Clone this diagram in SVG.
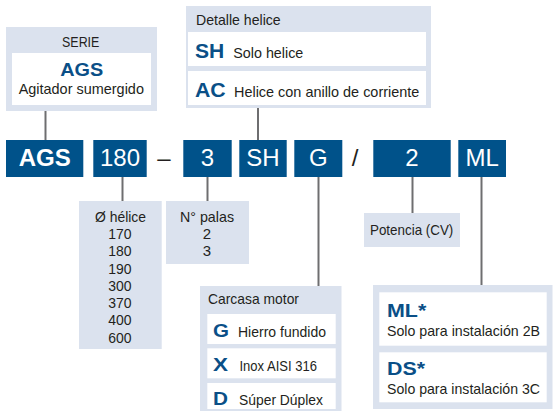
<svg xmlns="http://www.w3.org/2000/svg" width="556" height="411" viewBox="0 0 556 411">
<style>
text{font-family:"Liberation Sans",Arial,sans-serif;fill:#231f20}
.t{font-size:15px}
.b{font-weight:bold;fill:#0a4f87}
.c{text-anchor:middle}
.panel{fill:#dbe2ee}
.card{fill:#ffffff}
.code{fill:#00528a}
.ct{font-size:24px;fill:#ffffff;text-anchor:middle}
.sep{font-size:24px;fill:#231f20;text-anchor:middle}
.ln{stroke:#6e6e70;stroke-width:2;fill:none}
</style>
<g id="connectors">
<line class="ln" x1="45.5" y1="111" x2="45.5" y2="140"/>
<line class="ln" x1="258" y1="108" x2="258" y2="140"/>
<line class="ln" x1="122.5" y1="177" x2="122.5" y2="201"/>
<line class="ln" x1="207.5" y1="177" x2="207.5" y2="201"/>
<line class="ln" x1="318.5" y1="177" x2="318.5" y2="286"/>
<line class="ln" x1="412.5" y1="177" x2="412.5" y2="213"/>
<line class="ln" x1="481.5" y1="177" x2="481.5" y2="285"/>
</g>
<g id="serie">
<rect class="panel" x="6" y="27" width="151" height="84"/>
<rect class="card" x="12" y="53" width="139" height="52"/>
<text class="t c" x="80.7" y="47" textLength="37.3" lengthAdjust="spacingAndGlyphs">SERIE</text>
<text class="b c" x="81.7" y="75.5" font-size="18" textLength="43" lengthAdjust="spacingAndGlyphs">AGS</text>
<text class="t c" x="81.3" y="93.5" textLength="125.3" lengthAdjust="spacingAndGlyphs">Agitador sumergido</text>
</g>
<g id="detalle-helice">
<rect class="panel" x="186" y="6" width="245" height="102"/>
<rect class="card" x="188" y="32" width="238" height="34"/>
<rect class="card" x="188" y="71" width="238" height="34"/>
<text class="t" x="196" y="25" textLength="84.7" lengthAdjust="spacingAndGlyphs">Detalle helice</text>
<text class="b" x="195" y="58" font-size="20" textLength="29.3" lengthAdjust="spacingAndGlyphs">SH</text>
<text class="t" x="233.3" y="58" textLength="70" lengthAdjust="spacingAndGlyphs">Solo helice</text>
<text class="b" x="195" y="97" font-size="20" textLength="30.7" lengthAdjust="spacingAndGlyphs">AC</text>
<text class="t" x="234" y="97" textLength="185.3" lengthAdjust="spacingAndGlyphs">Helice con anillo de corriente</text>
</g>
<g id="code-AGS"><rect class="code" x="6" y="140" width="77.3" height="37"/><text class="ct" x="44.7" y="166" font-weight="bold">AGS</text></g>
<g id="code-180"><rect class="code" x="93.3" y="140" width="53.4" height="37"/><text class="ct" x="120" y="166">180</text></g>
<g id="sep-dash"><text class="sep" x="164" y="166">–</text></g>
<g id="code-3"><rect class="code" x="183.3" y="140" width="48.4" height="37"/><text class="ct" x="207.5" y="166">3</text></g>
<g id="code-SH"><rect class="code" x="239.3" y="140" width="47.4" height="37"/><text class="ct" x="263" y="166">SH</text></g>
<g id="code-G"><rect class="code" x="294.3" y="140" width="48" height="37"/><text class="ct" x="318.3" y="166">G</text></g>
<g id="sep-slash"><text class="sep" x="355" y="166">/</text></g>
<g id="code-2"><rect class="code" x="373.3" y="140" width="77.4" height="37"/><text class="ct" x="412" y="166">2</text></g>
<g id="code-ML"><rect class="code" x="458.3" y="140" width="47.7" height="37"/><text class="ct" x="482.2" y="166">ML</text></g>
<g id="helice">
<rect class="panel" x="79" y="201" width="82.7" height="148"/>
<text class="t c" x="120.5" y="222" textLength="51" lengthAdjust="spacingAndGlyphs">Ø hélice</text>
<text class="t c" x="120" y="239" textLength="23.3" lengthAdjust="spacingAndGlyphs">170</text>
<text class="t c" x="120" y="256" textLength="23.3" lengthAdjust="spacingAndGlyphs">180</text>
<text class="t c" x="120" y="273.5" textLength="23.3" lengthAdjust="spacingAndGlyphs">190</text>
<text class="t c" x="120" y="290.5" textLength="23.3" lengthAdjust="spacingAndGlyphs">300</text>
<text class="t c" x="120" y="308" textLength="23.3" lengthAdjust="spacingAndGlyphs">370</text>
<text class="t c" x="120" y="325" textLength="23.3" lengthAdjust="spacingAndGlyphs">400</text>
<text class="t c" x="120" y="342.5" textLength="23.3" lengthAdjust="spacingAndGlyphs">600</text>
</g>
<g id="palas">
<rect class="panel" x="166" y="201" width="83" height="63"/>
<text class="t c" x="207" y="222" textLength="54" lengthAdjust="spacingAndGlyphs">N° palas</text>
<text class="t c" x="207" y="239">2</text>
<text class="t c" x="207" y="256">3</text>
</g>
<g id="carcasa">
<rect class="panel" x="200" y="286" width="141.5" height="125"/>
<rect class="card" x="207.3" y="314" width="128.4" height="30"/>
<rect class="card" x="207.3" y="348.3" width="128.4" height="30"/>
<rect class="card" x="207.3" y="383" width="128.4" height="26"/>
<text class="t" x="208" y="304" textLength="91" lengthAdjust="spacingAndGlyphs">Carcasa motor</text>
<text class="b" x="213" y="337" font-size="19" textLength="16" lengthAdjust="spacingAndGlyphs">G</text>
<text class="t" x="238" y="337" textLength="88" lengthAdjust="spacingAndGlyphs">Hierro fundido</text>
<text class="b" x="213" y="371" font-size="19" textLength="15" lengthAdjust="spacingAndGlyphs">X</text>
<text class="t" x="239.5" y="371" textLength="77.5" lengthAdjust="spacingAndGlyphs">Inox AISI 316</text>
<text class="b" x="213" y="405" font-size="19" textLength="15" lengthAdjust="spacingAndGlyphs">D</text>
<text class="t" x="239" y="405" textLength="84" lengthAdjust="spacingAndGlyphs">Súper Dúplex</text>
</g>
<g id="potencia">
<rect class="panel" x="364" y="213" width="96" height="34"/>
<text class="t" x="370" y="235" textLength="83.3" lengthAdjust="spacingAndGlyphs">Potencia (CV)</text>
</g>
<g id="instalacion">
<rect class="panel" x="373" y="285" width="179.5" height="124"/>
<rect class="card" x="379.3" y="292.3" width="167.4" height="53.4"/>
<rect class="card" x="379.3" y="352.3" width="167.4" height="50"/>
<text class="b" x="387" y="317" font-size="19" textLength="39.3" lengthAdjust="spacingAndGlyphs">ML*</text>
<text class="t" x="387" y="336" textLength="153" lengthAdjust="spacingAndGlyphs">Solo para instalación 2B</text>
<text class="b" x="387" y="375" font-size="19" textLength="38" lengthAdjust="spacingAndGlyphs">DS*</text>
<text class="t" x="387" y="394" textLength="153" lengthAdjust="spacingAndGlyphs">Solo para instalación 3C</text>
</g>
</svg>
